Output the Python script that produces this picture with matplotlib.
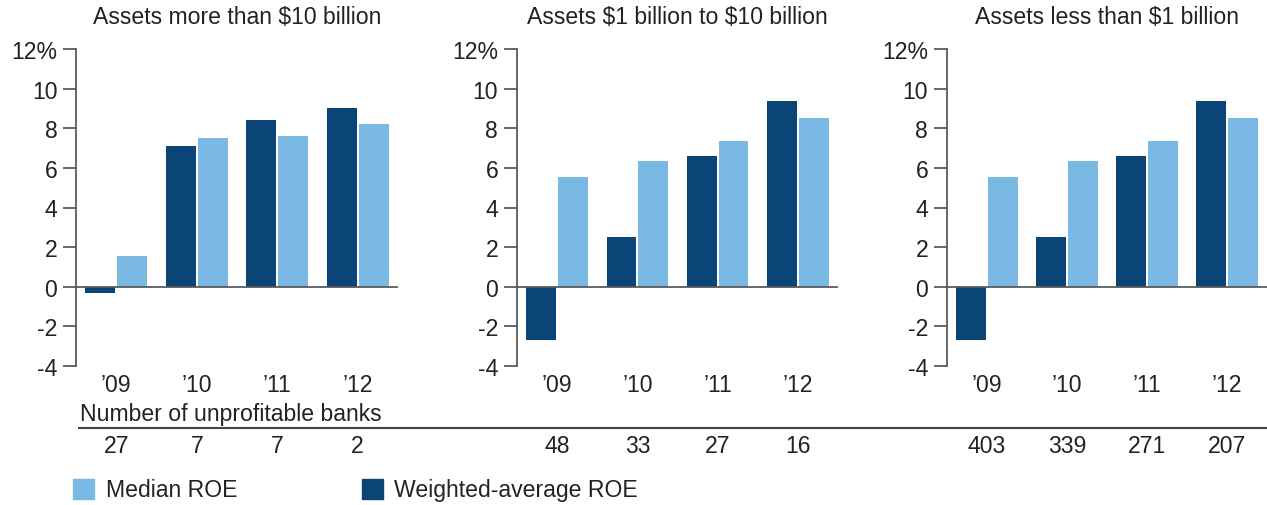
import numpy as np
import matplotlib.pyplot as plt
from matplotlib.patches import Patch
from matplotlib.lines import Line2D
from matplotlib import transforms

plt.rcParams['font.family'] = ['Liberation Sans', 'DejaVu Sans']

years = ["\u201909", "\u201910", "\u201911", "\u201912"]
titles = [r"Assets more than \$10 billion",
          r"Assets \$1 billion to \$10 billion",
          r"Assets less than \$1 billion"]
weighted_roe = [[-0.3, 7.1, 8.4, 9.0],
                [-2.7, 2.5, 6.6, 9.4],
                [-2.7, 2.5, 6.6, 9.4]]
median_roe = [[1.55, 7.5, 7.6, 8.2],
              [5.55, 6.35, 7.35, 8.5],
              [5.55, 6.35, 7.35, 8.5]]
unprofitable = [[27, 7, 7, 2],
                [48, 33, 27, 16],
                [403, 339, 271, 207]]
yticks = [-4, -2, 0, 2, 4, 6, 8, 10, 12]
ytick_labels = ["-4", "-2", "0", "2", "4", "6", "8", "10", "12%"]

dark = "#0b4477"
light = "#7ab9e4"
txt = "#222222"
grey = "#5a5a5a"
fs = 16.6

W, H = 1267, 506
fig = plt.figure(figsize=(W / 100, H / 100), dpi=100)

# axes boxes in pixels: left spine x, right end x
boxes = [(76, 398), (517, 838), (947, 1267)]
top, bottom = 50, 367

x = np.arange(4)
bw = 0.37
off = bw / 2 + 0.0125

for k, (l, r) in enumerate(boxes):
    ax = fig.add_axes([l / W, 1 - bottom / H, (r - l) / W, (bottom - top) / H])
    ax.bar(x - off, weighted_roe[k], bw, color=dark, zorder=2)
    ax.bar(x + off, median_roe[k], bw, color=light, zorder=2)
    ax.axhline(0, color=grey, lw=1.3, zorder=3)
    ax.set_xlim(-0.5, 3.5)
    ax.set_ylim(-4, 12)
    ax.set_yticks(yticks)
    ax.set_yticklabels(ytick_labels, fontsize=fs, color=txt)
    ax.set_xticks(x)
    ax.set_xticklabels(years, fontsize=fs, color=txt)
    ax.tick_params(axis='y', length=9.5, width=1.3, color=grey, pad=4)
    ax.tick_params(axis='x', length=0, pad=5)
    for s in ['top', 'right', 'bottom']:
        ax.spines[s].set_visible(False)
    ax.spines['left'].set_color(grey)
    ax.spines['left'].set_linewidth(1.3)
    fig.text((l + r) / 2 / W, 1 - 17 / H, titles[k], ha='center', va='center',
             fontsize=fs, color=txt)
    # counts of unprofitable banks under each year group
    tr = transforms.blended_transform_factory(ax.transData, fig.transFigure)
    for i, n in enumerate(unprofitable[k]):
        ax.text(i, 1 - 447 / H, str(n), transform=tr, ha='center', va='center',
                fontsize=fs, color=txt, clip_on=False)

fig.text(80 / W, 1 - 415 / H, "Number of unprofitable banks", ha='left',
         va='center', fontsize=fs, color=txt)
fig.add_artist(Line2D([79 / W, 1], [1 - 429 / H, 1 - 429 / H],
                      color="#444444", lw=1.5, transform=fig.transFigure))

handles = [Patch(color=light, label="Median ROE"),
           Patch(color=dark, label="Weighted-average ROE")]
fig.legend(handles=handles, loc='center left',
           bbox_to_anchor=(73 / W, 1 - 491 / H), ncol=2, frameon=False,
           fontsize=fs, handlelength=0.92, handleheight=0.95,
           handletextpad=0.5, columnspacing=5.4, borderpad=0,
           borderaxespad=0, labelcolor=txt)

fig.savefig("out.png", dpi=100)
